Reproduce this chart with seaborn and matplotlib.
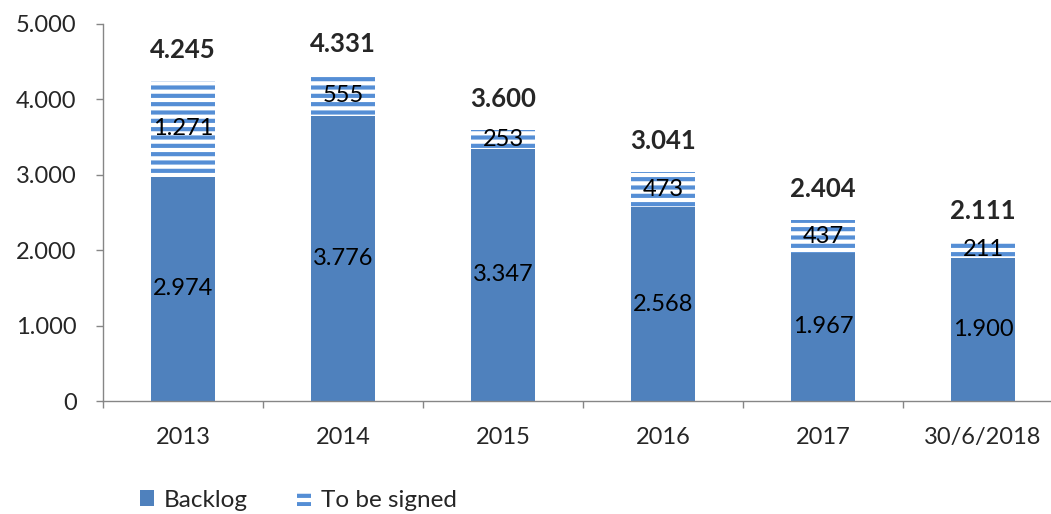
import matplotlib
matplotlib.use("Agg")
import matplotlib.pyplot as plt
from matplotlib.patches import Patch
import seaborn as sns
import pandas as pd
import numpy as np

# colours
AZUL = "#4F81BD"
AZUL_LISTRA = "#558ED5"
CINZA = "#868686"

# data
anos = ["2013", "2014", "2015", "2016", "2017", "30/6/2018"]
backlog = [2974, 3776, 3347, 2568, 1967, 1900]
to_be_signed = [1271, 555, 253, 473, 437, 211]
totais = [4245, 4331, 3600, 3041, 2404, 2111]

df = pd.DataFrame({"ano": anos, "backlog": backlog,
                   "signed": to_be_signed, "total": totais})

sns.set_style("white")
plt.rcParams["font.family"] = ["Lato", "DejaVu Sans"]
plt.rcParams["hatch.linewidth"] = 3.0

FS = 17

def fmt(v):
    return f"{v:,}".replace(",", ".")

fig = plt.figure(figsize=(10.51, 5.14), dpi=100)
ax = fig.add_axes([103 / 1051, 113 / 514, 960 / 1051, 377 / 514])

# total bar (hatched), backlog drawn on top
sns.barplot(data=df, x="ano", y="total", order=anos, color="white",
            width=0.4, ax=ax, linewidth=0)
for p in ax.patches:
    p.set_facecolor("white")
    p.set_edgecolor(AZUL_LISTRA)
    p.set_hatch("--")
    p.set_linewidth(0)

sns.barplot(data=df, x="ano", y="backlog", order=anos, color=AZUL,
            saturation=1, width=0.4, ax=ax, linewidth=0)

# labels
for i in range(len(anos)):
    ax.text(i, backlog[i] / 2, fmt(backlog[i]), ha="center", va="center",
            fontsize=FS, color="black")
    ax.text(i, backlog[i] + to_be_signed[i] / 2, fmt(to_be_signed[i]),
            ha="center", va="center", fontsize=FS, color="black")
    ax.annotate(fmt(totais[i]), (i, totais[i]), xytext=(0, 22),
                textcoords="offset points", ha="center", va="center",
                fontsize=18.5, fontweight="bold")

ax.set_ylim(0, 5000)
ax.set_xlim(-0.5, 5.5)
ax.set_yticks(np.arange(0, 5001, 1000))
ax.set_yticklabels([fmt(v) for v in range(0, 5001, 1000)], fontsize=FS)
ax.set_xticks(range(len(anos)))
ax.set_xticklabels(anos, fontsize=FS)
ax.set_xticks(np.arange(-0.5, 6, 1), minor=True)
ax.tick_params(axis="x", which="major", length=0, pad=19)
ax.tick_params(axis="x", which="minor", length=5, width=1, color=CINZA,
               direction="out", bottom=True)
ax.tick_params(axis="y", length=5, width=1, color=CINZA, direction="out",
               left=True, pad=14)
ax.set_xlabel("")
ax.set_ylabel("")

for s in ["top", "right"]:
    ax.spines[s].set_visible(False)
for s in ["left", "bottom"]:
    ax.spines[s].set_color(CINZA)
    ax.spines[s].set_linewidth(1)

handles = [Patch(facecolor=AZUL, edgecolor=AZUL, linewidth=0, label="Backlog"),
           Patch(facecolor="white", edgecolor=AZUL_LISTRA, hatch="--",
                 linewidth=0, label="To be signed")]
fig.legend(handles=handles, loc="center left", bbox_to_anchor=(0.133, 0.027),
           ncol=2, frameon=False, fontsize=17.5, handlelength=0.6,
           handleheight=0.6, handletextpad=0.4, columnspacing=2.0,
           borderpad=0, borderaxespad=0)

fig.savefig("out.png", dpi=100)
